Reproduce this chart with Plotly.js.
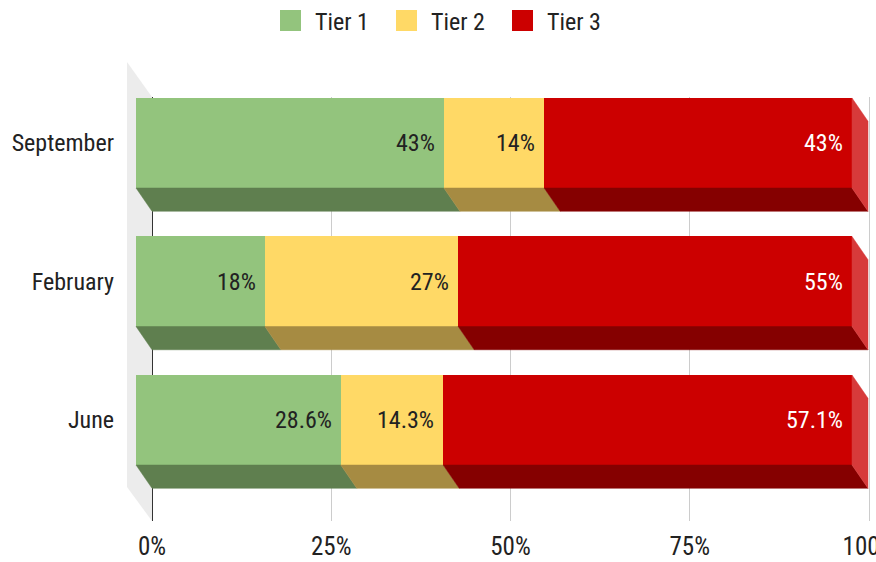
<!DOCTYPE html>
<html><head><meta charset="utf-8">
<script src="https://cdn.plot.ly/plotly-3.0.1.min.js"></script>
<style>html,body{margin:0;padding:0;background:#fff}#chart{width:876px;height:562px}</style>
</head><body><div id="chart"></div>
<script>
// ---- data ----
const categories = ['September', 'February', 'June'];
const seriesNames = ['Tier 1', 'Tier 2', 'Tier 3'];
const tier1 = [43, 18, 28.6];
const tier2 = [14, 27, 14.3];
const tier3 = [43, 55, 57.1];
const tickVals = [0, 25, 50, 75, 100];
const tickText = ['0%', '25%', '50%', '75%', '100%'];

// ---- style ----
const FONT = '"Liberation Sans Narrow","Arial Narrow","Roboto Condensed","DejaVu Sans Condensed",sans-serif';
const colors = ['#93c47d', '#ffd966', '#cc0000'];
const darkColors = ['#5f7f4f', '#a68b42', '#850000'];
const sideColor = '#d73a3a';
const textColors = ['#222222', '#222222', '#ffffff'];
const BAR_W = 0.65, DX = 2.235, DY = 0.168;

const series = [tier1, tier2, tier3];
const n = categories.length;
const yPos = categories.map((c, i) => n - 1 - i);

const traces = [];
const annotations = [];
// legend entries
series.forEach((vals, s) => {
  traces.push({type: 'scatter', mode: 'markers', x: [null], y: [null], name: seriesNames[s],
    legendgroup: seriesNames[s], xaxis: 'x', yaxis: 'y', hoverinfo: 'skip',
    marker: {symbol: 'square', size: 16, color: colors[s], line: {color: colors[s], width: 5}}});
});
// front faces
series.forEach((vals, s) => {
  traces.push({type: 'bar', orientation: 'h', name: seriesNames[s], legendgroup: seriesNames[s],
    showlegend: false, x: vals, y: yPos, xaxis: 'x2', yaxis: 'y', width: BAR_W,
    marker: {color: colors[s], line: {width: 0}}, hoverinfo: 'skip'});
});
// bottom faces (depth) computed from the stacked values, plus value labels
series.forEach((vals, s) => {
  const xs = [], ys = [];
  vals.forEach((v, i) => {
    let a = 0;
    for (let k = 0; k < s; k++) a += series[k][i];
    const b = a + v;
    const yb = yPos[i] - BAR_W / 2;
    xs.push(a, b, b + DX, a + DX, a, null);
    ys.push(yb, yb, yb - DY, yb - DY, yb, null);
    annotations.push({xref: 'x2', yref: 'y', x: b, y: yPos[i], text: v + '%', showarrow: false,
      xanchor: 'right', yanchor: 'middle', xshift: -7,
      font: {family: FONT, size: 24, color: textColors[s]}});
  });
  traces.push({type: 'scatter', mode: 'lines', x: xs, y: ys, xaxis: 'x2', yaxis: 'y',
    fill: 'toself', fillcolor: darkColors[s], line: {color: darkColors[s], width: 0.5},
    showlegend: false, hoverinfo: 'skip', legendgroup: seriesNames[s]});
});
// right side faces at stack end
(function () {
  const xs = [], ys = [];
  categories.forEach((c, i) => {
    let t = 0;
    series.forEach(vals => { t += vals[i]; });
    const yb = yPos[i] - BAR_W / 2, yt = yPos[i] + BAR_W / 2;
    xs.push(t, t + DX, t + DX, t, t, null);
    ys.push(yt, yt - DY, yb - DY, yb, yt, null);
  });
  traces.push({type: 'scatter', mode: 'lines', x: xs, y: ys, xaxis: 'x2', yaxis: 'y',
    fill: 'toself', fillcolor: sideColor, line: {color: sideColor, width: 0.5},
    showlegend: false, hoverinfo: 'skip', legendgroup: seriesNames[2]});
})();

const layout = {
  width: 876, height: 562,
  margin: {l: 127, r: 4, t: 97, b: 41},
  paper_bgcolor: '#ffffff', plot_bgcolor: 'rgba(0,0,0,0)',
  barmode: 'stack',
  font: {family: FONT, color: '#222222'},
  xaxis: {range: [-3.487, 100.418], tickvals: tickVals, ticktext: tickText,
    showgrid: true, gridcolor: '#cccccc', gridwidth: 1,
    zeroline: true, zerolinecolor: '#333333', zerolinewidth: 1,
    showline: false, ticks: '', ticklabelstandoff: 8, ticklabeloverflow: 'allow',
    tickfont: {family: FONT, size: 25, color: '#222222'}, fixedrange: true},
  xaxis2: {overlaying: 'x', range: [-1.257, 102.793], visible: false, fixedrange: true},
  yaxis: {range: [-0.7292, 2.3321], tickvals: yPos, ticktext: categories,
    showgrid: false, zeroline: false, showline: false, ticks: '', ticklabelstandoff: 12,
    tickfont: {family: FONT, size: 24, color: '#222222'}, fixedrange: true},
  showlegend: true,
  legend: {orientation: 'h', xref: 'container', yref: 'container', x: 0.5 + 2 / 876, xanchor: 'center',
    y: 1 - 21 / 562, yanchor: 'middle', traceorder: 'normal', itemwidth: 39, entrywidth: 62,
    bgcolor: 'rgba(0,0,0,0)', font: {family: FONT, size: 24, color: '#222222'}},
  annotations: annotations,
  shapes: [{type: 'path', xref: 'paper', yref: 'paper', layer: 'below',
    path: 'M 0 1.0825 L 0.03356 1 L 0.03356 0 L 0 0.0802 Z',
    fillcolor: '#ececec', line: {width: 0}}]
};

Plotly.newPlot('chart', traces, layout, {displayModeBar: false, staticPlot: true});
</script></body></html>
